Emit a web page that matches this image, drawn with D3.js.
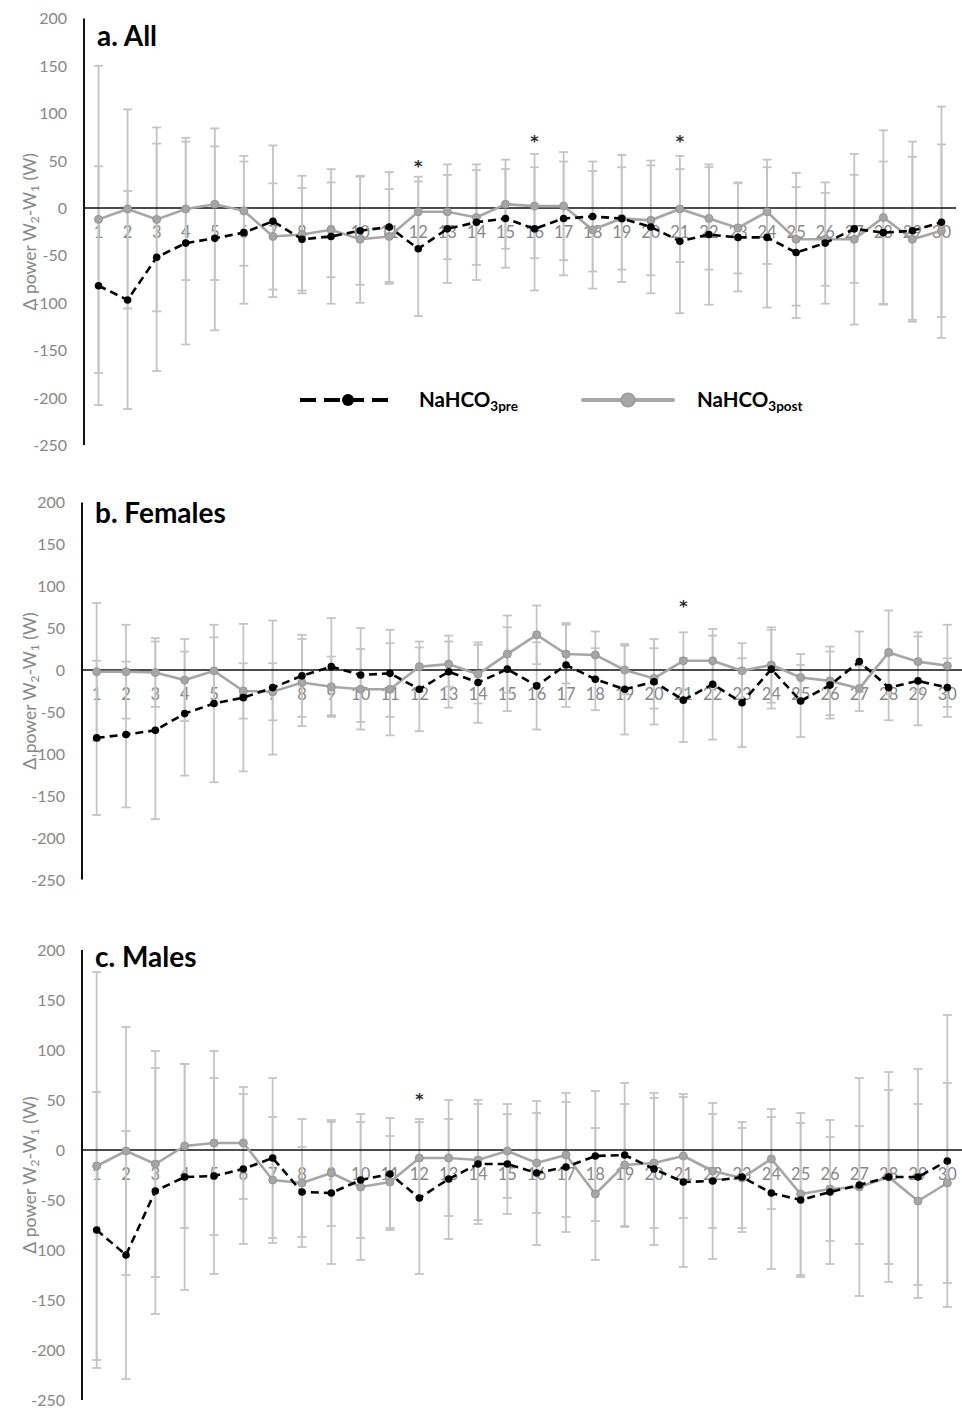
<!DOCTYPE html>
<html>
<head>
<meta charset="utf-8">
<script src="https://cdnjs.cloudflare.com/ajax/libs/d3/7.8.5/d3.min.js"></script>
<style>
  body { margin: 0; background: #fff; }
  svg { display: block; font-family: Lato, "Open Sans", sans-serif; }
</style>
</head>
<body>
<div id="chart"></div>
<script>
// Sprint number on the x axis
const categories = [1,2,3,4,5,6,7,8,9,10,11,12,13,14,15,16,17,18,19,20,21,22,23,24,25,26,27,28,29,30];
const yTicks = [200, 150, 100, 50, 0, -50, -100, -150, -200, -250];

// a. All
const allPre    = [-82,-97,-52,-37,-32,-26,-14,-33,-30,-24,-20,-43,-22,-15,-11,-22,-11,-9,-11,-20,-35,-28,-31,-31,-47,-37,-22,-26,-24,-15];
const allPreSD  = [126,115,120,107,97,75,80,54,71,57,58,71,57,61,52,65,60,58,67,70,76,74,57,74,69,64,57,75,94,122];
const allPost   = [-12,-1,-12,-1,4,-3,-30,-28,-23,-33,-30,-4,-4,-10,4,2,2,-23,-11,-13,-1,-11,-21,-4,-33,-33,-33,-10,-33,-24];
const allPostSD = [162,105,97,75,80,58,56,62,50,67,50,37,50,50,47,55,57,62,54,58,56,54,48,55,70,49,90,92,87,91];
const allStarCats = [12, 16, 21];
const allStarVals = [47, 74, 74];

// b. Females
const femPre    = [-81,-77,-72,-52,-40,-33,-21,-7,4,-6,-4,-23,-2,-15,1,-19,6,-11,-23,-14,-36,-17,-39,1,-37,-18,10,-21,-13,-21];
const femPreSD  = [92,87,106,74,94,88,80,49,58,56,52,50,43,48,50,52,50,37,54,51,50,66,53,47,43,40,36,39,53,35];
const femPost   = [-2,-2,-3,-12,-1,-25,-26,-15,-20,-23,-23,4,7,-5,19,42,19,18,0,-10,11,11,-1,6,-9,-13,-22,21,10,5];
const femPostSD = [82,56,41,49,40,33,34,52,36,48,55,30,27,35,46,35,35,28,29,36,34,30,33,45,28,41,27,50,35,49];
const femStarCats = [21];
const femStarVals = [80];

// c. Males
const malePre    = [-80,-105,-41,-27,-26,-19,-8,-42,-43,-30,-24,-48,-29,-14,-14,-23,-17,-6,-5,-19,-32,-31,-27,-43,-50,-42,-35,-27,-27,-11];
const malePreSD  = [138,124,123,113,98,75,80,45,71,58,56,76,60,60,50,72,65,65,72,76,85,78,55,76,77,72,59,87,108,146];
const malePost   = [-16,-1,-14,4,7,7,-30,-33,-23,-37,-32,-8,-8,-10,-1,-13,-5,-44,-15,-13,-6,-21,-28,-9,-44,-39,-37,-27,-51,-33];
const malePostSD = [194,124,113,82,92,56,63,64,53,73,46,39,58,60,47,50,62,66,61,65,62,57,50,50,81,52,109,105,97,100];
const maleStarCats = [12];
const maleStarVals = [54];

document.addEventListener('DOMContentLoaded', () => {
    const width = 962;
    const height = 1408;

    const svg = d3.select("#chart")
        .append("svg")
        .attr("width", width)
        .attr("height", height);

    const panels = [
        { title: "a. All", left: 84, right: 956, top: 18.4, bottom: 445, titleY: 46,
          pre: allPre, preSD: allPreSD, post: allPost, postSD: allPostSD,
          starCats: allStarCats, starVals: allStarVals, legend: true },
        { title: "b. Females", left: 82, right: 962, top: 502.4, bottom: 879.5, titleY: 523,
          pre: femPre, preSD: femPreSD, post: femPost, postSD: femPostSD,
          starCats: femStarCats, starVals: femStarVals, legend: false },
        { title: "c. Males", left: 82, right: 962, top: 950, bottom: 1400, titleY: 967,
          pre: malePre, preSD: malePreSD, post: malePost, postSD: malePostSD,
          starCats: maleStarCats, starVals: maleStarVals, legend: false }
    ];

    const grayLine = "#a6a6a6";
    const errColor = "#c4c4c4";
    const labelColor = "#878787";

    panels.forEach(p => {
        const g = svg.append("g");

        const x = d3.scaleBand().domain(categories).range([p.left, p.right]).padding(0);
        const y = d3.scaleLinear().domain([-250, 200]).range([p.bottom, p.top]);
        const cx = c => x(c) + x.bandwidth() / 2;

        // y tick labels
        g.selectAll(".ytick")
            .data(yTicks)
            .enter()
            .append("text")
            .attr("x", p.left - 17)
            .attr("y", d => y(d) + 6)
            .attr("text-anchor", "end")
            .style("font-size", "16px")
            .style("fill", labelColor)
            .text(d => d);

        // y axis title, rotated
        const midY = (p.top + p.bottom) / 2;
        const yt = g.append("text")
            .attr("transform", `translate(36,${midY}) rotate(-90)`)
            .attr("text-anchor", "middle")
            .style("font-size", "17.5px")
            .style("fill", labelColor);
        yt.append("tspan").text("\u0394 power W");
        yt.append("tspan").attr("baseline-shift", "-25%").style("font-size", "12px").text("2");
        yt.append("tspan").text("-W");
        yt.append("tspan").attr("baseline-shift", "-25%").style("font-size", "12px").text("1");
        yt.append("tspan").text(" (W)");

        // category labels sit just under the zero line
        g.selectAll(".xtick")
            .data(categories)
            .enter()
            .append("text")
            .attr("x", d => cx(d))
            .attr("y", y(0) + 30)
            .attr("text-anchor", "middle")
            .style("font-size", "16.5px")
            .style("fill", labelColor)
            .text(d => d);

        // error bars for both series
        [[p.pre, p.preSD], [p.post, p.postSD]].forEach(([m, sd]) => {
            const bars = g.append("g")
                .attr("stroke", errColor)
                .attr("stroke-width", 1.8);
            categories.forEach((c, i) => {
                const y1 = y(m[i] + sd[i]);
                const y2 = y(m[i] - sd[i]);
                bars.append("line").attr("x1", cx(c)).attr("x2", cx(c)).attr("y1", y1).attr("y2", y2);
                bars.append("line").attr("x1", cx(c) - 4.5).attr("x2", cx(c) + 4.5).attr("y1", y1).attr("y2", y1);
                bars.append("line").attr("x1", cx(c) - 4.5).attr("x2", cx(c) + 4.5).attr("y1", y2).attr("y2", y2);
            });
        });

        // zero line and y axis line
        g.append("line")
            .attr("x1", p.left).attr("x2", p.right)
            .attr("y1", y(0)).attr("y2", y(0))
            .attr("stroke", "#111").attr("stroke-width", 1.6);
        g.append("line")
            .attr("x1", p.left).attr("x2", p.left)
            .attr("y1", y(200)).attr("y2", y(-250))
            .attr("stroke", "#111").attr("stroke-width", 2);

        const line = d3.line()
            .x((d, i) => cx(categories[i]))
            .y(d => y(d));

        // post series (grey, solid)
        g.append("path")
            .datum(p.post)
            .attr("d", line)
            .attr("fill", "none")
            .attr("stroke", grayLine)
            .attr("stroke-width", 2.6);
        g.selectAll(".postDot")
            .data(p.post)
            .enter()
            .append("circle")
            .attr("cx", (d, i) => cx(categories[i]))
            .attr("cy", d => y(d))
            .attr("r", 4)
            .attr("fill", grayLine)
            .attr("stroke", "#959595")
            .attr("stroke-width", 1);

        // pre series (black, dashed)
        g.append("path")
            .datum(p.pre)
            .attr("d", line)
            .attr("fill", "none")
            .attr("stroke", "#000")
            .attr("stroke-width", 2.6)
            .attr("stroke-dasharray", "8,5");
        g.selectAll(".preDot")
            .data(p.pre)
            .enter()
            .append("circle")
            .attr("cx", (d, i) => cx(categories[i]))
            .attr("cy", d => y(d))
            .attr("r", 3.8)
            .attr("fill", "#000");

        // significance markers
        g.selectAll(".star")
            .data(p.starCats)
            .enter()
            .append("text")
            .attr("x", d => cx(d))
            .attr("y", (d, i) => y(p.starVals[i]) + 9)
            .attr("text-anchor", "middle")
            .style("font-family", "'DejaVu Sans', sans-serif")
            .style("font-size", "16px")
            .style("font-weight", "700")
            .style("fill", "#2a2a2a")
            .text("*");

        // panel title
        g.append("text")
            .attr("x", p.left + 13)
            .attr("y", p.titleY)
            .style("font-size", "28px")
            .style("font-weight", "700")
            .style("fill", "#000")
            .text(p.title);

        if (p.legend) {
            const ly = 400;
            const lg = g.append("g");
            lg.append("line")
                .attr("x1", 300).attr("x2", 395).attr("y1", ly).attr("y2", ly)
                .attr("stroke", "#000").attr("stroke-width", 4).attr("stroke-dasharray", "16,8");
            lg.append("circle").attr("cx", 348).attr("cy", ly).attr("r", 6).attr("fill", "#000");
            const t1 = lg.append("text").attr("x", 419).attr("y", ly + 7)
                .style("font-size", "20.5px").style("font-weight", "700").style("fill", "#000");
            t1.append("tspan").text("NaHCO");
            t1.append("tspan").attr("baseline-shift", "-30%").style("font-size", "13.5px").text("3pre");

            lg.append("line")
                .attr("x1", 583).attr("x2", 673).attr("y1", ly).attr("y2", ly)
                .attr("stroke", grayLine).attr("stroke-width", 4).attr("stroke-linecap", "round");
            lg.append("circle").attr("cx", 628).attr("cy", ly).attr("r", 7)
                .attr("fill", grayLine).attr("stroke", "#959595").attr("stroke-width", 1.2);
            const t2 = lg.append("text").attr("x", 697).attr("y", ly + 7)
                .style("font-size", "20.5px").style("font-weight", "700").style("fill", "#000");
            t2.append("tspan").text("NaHCO");
            t2.append("tspan").attr("baseline-shift", "-30%").style("font-size", "13.5px").text("3post");
        }
    });
});
</script>
</body>
</html>
